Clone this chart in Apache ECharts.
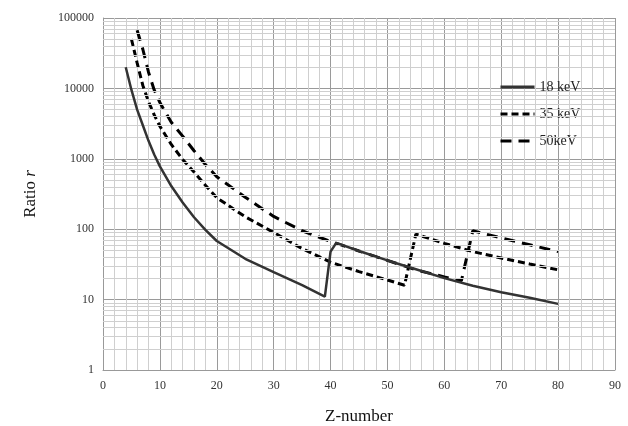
<!DOCTYPE html>
<html>
<head>
<meta charset="utf-8">
<script src="https://cdn.jsdelivr.net/npm/echarts@6/dist/echarts.min.js"></script>
<style>
  html, body { margin: 0; padding: 0; background: #fff; }
  #chart { width: 628px; height: 426px; }
</style>
</head>
<body>
<div id="chart"></div>
<script>
// values
var z18 = [4, 5, 6, 7, 8, 9, 10, 12, 14, 16, 18, 20, 25, 30, 35, 39, 40, 41, 45, 50, 55, 60, 65, 70, 75, 80];
var r18 = [20000, 9500, 5000, 3000, 1800, 1150, 780, 410, 240, 148, 98, 68, 38, 24.5, 16, 11, 48, 64, 49, 36, 27, 20.2, 15.7, 12.7, 10.6, 8.7];

var z35 = [5, 6, 7, 8, 9, 10, 12, 14, 16, 18, 20, 25, 30, 35, 40, 45, 50, 53, 55, 60, 65, 70, 75, 80];
var r35 = [50000, 23000, 11000, 6500, 4200, 2900, 1600, 980, 650, 420, 280, 150, 90, 53, 34, 25, 19, 16, 85, 63, 48, 39, 32, 26.5];

var z50 = [6, 7, 8, 9, 10, 12, 14, 16, 18, 20, 25, 30, 35, 40, 45, 50, 55, 60, 63, 65, 70, 75, 80];
var r50 = [67000, 36000, 17000, 9500, 6300, 3300, 2100, 1300, 830, 557, 285, 152, 95, 67, 49, 36, 26.5, 21, 18.5, 95, 75, 60, 48];

var seriesNames = ['18 keV', '35 keV', '50keV'];

var FONT = 'Liberation Serif, Times New Roman, serif';

function pairs(xs, ys) {
    return xs.map(function (x, i) { return [x, ys[i]]; });
}

// minor horizontal grid lines at 2..9 of each decade
var minorY = [];
[1, 10, 100, 1000, 10000].forEach(function (d) {
    for (var k = 2; k <= 9; k++) minorY.push(k * d);
});

var chart = echarts.init(document.getElementById('chart'));
chart.setOption({
    animation: false,
    textStyle: { fontFamily: FONT },
    grid: { left: 103, right: 13, top: 18, bottom: 56, outerBoundsMode: 'none' },
    legend: {
        data: seriesNames,
        orient: 'vertical',
        left: 494,
        top: 75,
        itemWidth: 34,
        itemHeight: 14,
        itemGap: 13,
        itemStyle: { opacity: 0 },
        lineStyle: { width: 3 },
        textStyle: { fontFamily: FONT, fontSize: 14, color: '#222' }
    },
    xAxis: {
        type: 'value',
        min: 0,
        max: 90,
        interval: 10,
        name: 'Z-number',
        nameLocation: 'middle',
        nameGap: 38,
        nameTextStyle: { fontFamily: FONT, fontSize: 17, color: '#111' },
        axisLine: { show: true, lineStyle: { color: '#999', width: 1 } },
        axisTick: { show: false },
        axisLabel: { fontFamily: FONT, fontSize: 12, color: '#333', margin: 10 },
        splitLine: { show: true, lineStyle: { color: '#9a9a9a', width: 1 } },
        minorTick: { show: false, splitNumber: 5 },
        minorSplitLine: { show: true, lineStyle: { color: '#cfcfcf', width: 1 } }
    },
    yAxis: {
        type: 'log',
        logBase: 10,
        min: 1,
        max: 100000,
        name: '{a|Ratio }{b|r}',
        nameLocation: 'middle',
        nameGap: 64,
        nameTextStyle: {
            rich: {
                a: { fontFamily: FONT, fontSize: 17, color: '#111' },
                b: { fontFamily: FONT, fontSize: 17, color: '#111', fontStyle: 'italic' }
            }
        },
        axisLine: { show: true, lineStyle: { color: '#999', width: 1 } },
        axisTick: { show: false },
        axisLabel: {
            fontFamily: FONT, fontSize: 12, color: '#333', margin: 9,
            formatter: function (v) { return String(Math.round(v)); }
        },
        splitLine: { show: true, lineStyle: { color: '#9a9a9a', width: 1 } }
    },
    series: [
        {
            name: 'grid-minor',
            type: 'line',
            data: [],
            z: 1,
            silent: true,
            markLine: {
                silent: true,
                symbol: 'none',
                label: { show: false },
                lineStyle: { color: '#cfcfcf', type: 'solid', width: 1 },
                data: minorY.map(function (v) { return { yAxis: v }; })
            }
        },
        {
            name: seriesNames[0],
            type: 'line',
            z: 5,
            symbol: 'none',
            data: pairs(z18, r18),
            lineStyle: { color: '#333', width: 2.5, type: 'solid' },
            itemStyle: { color: '#333' }
        },
        {
            name: seriesNames[1],
            type: 'line',
            z: 4,
            symbol: 'none',
            data: pairs(z35, r35),
            lineStyle: { color: '#000', width: 3, type: [7, 4] },
            itemStyle: { color: '#000' }
        },
        {
            name: seriesNames[2],
            type: 'line',
            z: 4,
            symbol: 'none',
            data: pairs(z50, r50),
            lineStyle: { color: '#000', width: 3, type: [11, 7] },
            itemStyle: { color: '#000' }
        }
    ]
});
</script>
</body>
</html>
